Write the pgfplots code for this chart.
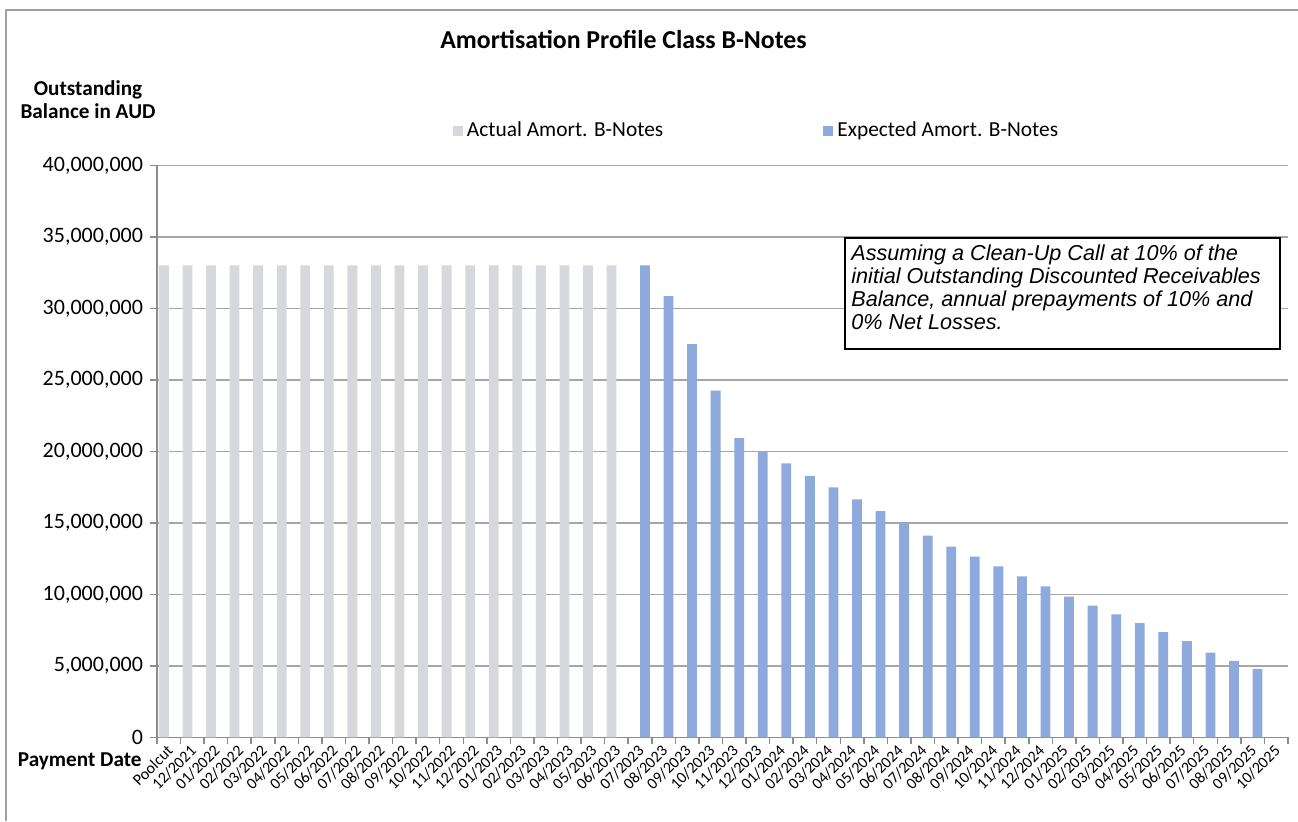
\documentclass[border=0pt]{standalone}
\usepackage{fontspec}
\setmainfont{Carlito}
\newfontfamily\arialfont{Liberation Sans}
\usepackage{pgfplots}
\pgfplotsset{compat=1.18}
\definecolor{barGray}{RGB}{214,216,221}
\definecolor{barBlue}{RGB}{142,169,219}
\definecolor{gridGray}{RGB}{166,166,166}
\definecolor{axisGray}{RGB}{140,140,140}
\definecolor{frameGray}{RGB}{160,160,160}
\begin{document}
\begin{tikzpicture}
\path[use as bounding box] (0,0) rectangle (649pt,410.5pt);
\draw[frameGray, line width=0.6pt] (3pt,0) -- (3pt,405.5pt) -- (649pt,405.5pt);
\begin{axis}[
  at={(78.5pt,41.85pt)}, anchor=south west,
  width=565.5pt, height=286pt, scale only axis,
  ybar=0pt, bar width=4.9pt,
  xmin=-0.5, xmax=47.5, ymin=0, ymax=40000000,
  axis x line*=bottom, axis y line*=left,
  axis line style={-, draw=axisGray, line width=0.75pt},
  ytick={0,5000000,10000000,15000000,20000000,25000000,30000000,35000000,40000000},
  scaled y ticks=false,
  /pgf/number format/assume math mode=true,
  yticklabel style={font=\fontsize{11}{13}\selectfont, /pgf/number format/fixed, /pgf/number format/1000 sep={,}},
  ymajorgrids, grid style={gridGray, line width=0.7pt},
  tick align=outside, major tick length=3.5pt, minor tick length=3.5pt,
  tick style={axisGray, line width=0.75pt},
  major x tick style={draw=none},
  minor x tick style={axisGray, line width=0.75pt},
  xtick={0,...,47},
  minor xtick={-0.5,0.5,...,47.5},
  xticklabels={Poolcut,12/2021,01/2022,02/2022,03/2022,04/2022,05/2022,06/2022,07/2022,08/2022,09/2022,10/2022,11/2022,12/2022,01/2023,02/2023,03/2023,04/2023,05/2023,06/2023,07/2023,08/2023,09/2023,10/2023,11/2023,12/2023,01/2024,02/2024,03/2024,04/2024,05/2024,06/2024,07/2024,08/2024,09/2024,10/2024,11/2024,12/2024,01/2025,02/2025,03/2025,04/2025,05/2025,06/2025,07/2025,08/2025,09/2025,10/2025},
  xticklabel style={rotate=45, anchor=east, font=\fontsize{8}{9}\selectfont, inner sep=0.8pt, yshift=-1.8pt},
  legend columns=2,
  legend style={at={(0.2617,1.060)}, anchor=west, draw=none, fill=none,
    font=\fontsize{10.7}{12}\selectfont, inner sep=0pt, outer sep=0pt,
    /tikz/every even column/.append style={column sep=78pt}},
  legend image code/.code={\fill[#1] (0pt,-2.5pt) rectangle (5pt,2.5pt);},
]
\addplot[fill=barGray, draw=none] coordinates {
(0,33000000) (1,33000000) (2,33000000) (3,33000000) (4,33000000)
(5,33000000) (6,33000000) (7,33000000) (8,33000000) (9,33000000)
(10,33000000) (11,33000000) (12,33000000) (13,33000000) (14,33000000)
(15,33000000) (16,33000000) (17,33000000) (18,33000000) (19,33000000)};
\addlegendentry{Actual Amort. B-Notes}
\addplot[fill=barBlue, draw=none] coordinates {
(20,33000000) (21,30860000) (22,27500000) (23,24240000) (24,20930000)
(25,20000000) (26,19160000) (27,18290000) (28,17480000) (29,16640000)
(30,15820000) (31,14960000) (32,14100000) (33,13330000) (34,12630000)
(35,11960000) (36,11260000) (37,10560000) (38,9830000) (39,9200000)
(40,8600000) (41,7990000) (42,7360000) (43,6730000) (44,5920000)
(45,5340000) (46,4780000)};
\addlegendentry{Expected Amort. B-Notes}
\end{axis}
\node[font=\bfseries\fontsize{12.9}{15}\selectfont] at (311.75pt,390.5pt) {Amortisation Profile Class B-Notes};
\node[font=\bfseries\fontsize{10.6}{11.5}\selectfont, align=center] at (44pt,360.75pt) {Outstanding\\Balance in AUD};
\node[font=\bfseries\fontsize{10.6}{12}\selectfont, anchor=east, inner sep=0pt] at (71pt,30pt) {Payment Date};
\draw[black, line width=0.9pt, fill=white] (422.5pt,291.5pt) rectangle (640pt,236pt);
\node[font=\arialfont\itshape\fontsize{10.8}{11.5}\selectfont, align=left, anchor=north west, inner sep=0pt] at (425.5pt,288.5pt)
{Assuming a Clean-Up Call at 10\% of the\\initial Outstanding Discounted Receivables\\Balance, annual prepayments of 10\% and\\0\% Net Losses.};
\end{tikzpicture}
\end{document}
